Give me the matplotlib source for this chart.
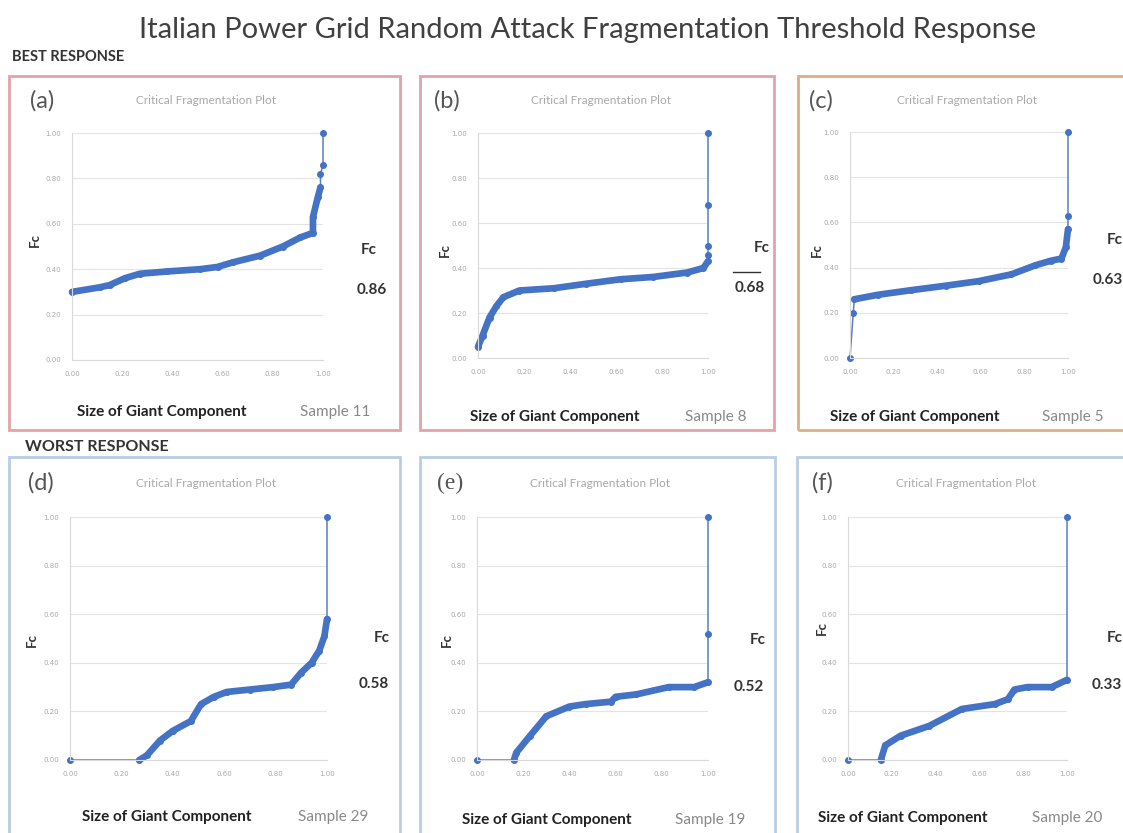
import matplotlib.pyplot as plt
import matplotlib.patches as patches
import numpy as np

W, H = 1123, 833

# critical fragmentation curves: giant component size vs Fc
a_x = [0.00, 0.11, 0.15, 0.21, 0.27, 0.38, 0.51, 0.58, 0.64, 0.75, 0.84, 0.91, 0.96, 0.96, 0.98, 0.99, 0.99]
a_y = [0.30, 0.32, 0.33, 0.36, 0.38, 0.39, 0.40, 0.41, 0.43, 0.46, 0.50, 0.54, 0.56, 0.63, 0.72, 0.76, 0.82]
b_x = [0.00, 0.02, 0.05, 0.08, 0.11, 0.18, 0.33, 0.47, 0.62, 0.76, 0.91, 0.98, 1.00, 1.00, 1.00]
b_y = [0.05, 0.10, 0.18, 0.23, 0.27, 0.30, 0.31, 0.33, 0.35, 0.36, 0.38, 0.40, 0.43, 0.46, 0.50]
c_x = [0.00, 0.015, 0.02, 0.13, 0.28, 0.44, 0.59, 0.74, 0.85, 0.92, 0.97, 0.99, 1.00]
c_y = [0.00, 0.20, 0.26, 0.28, 0.30, 0.32, 0.34, 0.37, 0.41, 0.43, 0.44, 0.49, 0.57]
d_x = [0.00, 0.27, 0.30, 0.35, 0.40, 0.47, 0.51, 0.56, 0.61, 0.70, 0.79, 0.86, 0.90, 0.94, 0.97, 0.99]
d_y = [0.00, 0.00, 0.02, 0.08, 0.12, 0.16, 0.23, 0.26, 0.28, 0.29, 0.30, 0.31, 0.36, 0.40, 0.45, 0.51]
e_x = [0.00, 0.16, 0.17, 0.23, 0.30, 0.40, 0.47, 0.58, 0.60, 0.69, 0.83, 0.94, 1.00]
e_y = [0.00, 0.00, 0.03, 0.10, 0.18, 0.22, 0.23, 0.24, 0.26, 0.27, 0.30, 0.30, 0.32]
f_x = [0.00, 0.15, 0.17, 0.24, 0.37, 0.52, 0.67, 0.73, 0.76, 0.82, 0.93]
f_y = [0.00, 0.00, 0.06, 0.10, 0.14, 0.21, 0.23, 0.25, 0.29, 0.30, 0.30]

series_x = [a_x, b_x, c_x, d_x, e_x, f_x]
series_y = [a_y, b_y, c_y, d_y, e_y, f_y]
fc_values = [0.86, 0.68, 0.63, 0.58, 0.52, 0.33]
samples = [11, 8, 5, 29, 19, 20]
letters = ['a', 'b', 'c', 'd', 'e', 'f']
bands = [(0, 16), (0, 13), (2, 13), (1, 17), (1, 13), (1, 12)]
ticks = [0.0, 0.2, 0.4, 0.6, 0.8, 1.0]

# layout in pixels: frame box, plot area, and text anchors
boxes = [(9, 76, 400, 430), (420, 76, 774, 430), (798, 76, 1140, 430),
         (9, 457, 400, 850), (420, 457, 775, 850), (797, 457, 1140, 850)]
plot_areas = [(72, 133, 323, 360), (478, 133, 708, 358), (850, 132, 1068, 358),
              (70, 517, 327, 760), (477, 517, 708, 760), (848, 517, 1067, 760)]
box_colors = ['#e3a2aa', '#e3a2aa', '#dcae86', '#b9cde3', '#b9cde3', '#b9cde3']
letter_pos = [(42, 101), (447, 101), (821, 101), (41, 483), (450, 483), (822, 483)]
ylabel_pos = [(35, 240), (445, 250), (817, 250), (32, 640), (447, 640), (822, 628)]
fc_pos = [(369, 250), (762, 248), (1115, 240), (382, 638), (758, 640), (1115, 638)]
fc_val_pos = [(372, 290), (750, 288), (1108, 280), (374, 684), (749, 687), (1107, 685)]
xlabel_pos = [(77, 412), (470, 417), (830, 417), (82, 817), (462, 820), (818, 818)]
sample_pos = [(300, 412), (685, 417), (1042, 417), (298, 817), (675, 820), (1032, 818)]

blue = '#4472c4'
plt.rcParams['font.family'] = ['Lato', 'DejaVu Sans']

fig = plt.figure(figsize=(W / 100, H / 100), dpi=100)
fig.patch.set_facecolor('white')


def fx(x):
    return x / W


def fy(y):
    return 1 - y / H


fig.text(fx(588), fy(30), 'Italian Power Grid Random Attack Fragmentation Threshold Response',
         ha='center', va='center', fontsize=21, color='#404040')
fig.text(fx(12), fy(57), 'BEST RESPONSE', ha='left', va='center', fontsize=10.5,
         fontweight='bold', color='#333333')
fig.text(fx(25), fy(447), 'WORST RESPONSE', ha='left', va='center', fontsize=11.5,
         fontweight='bold', color='#333333')

for i in range(6):
    x0, y0, x1, y1 = boxes[i]
    fig.patches.append(patches.Rectangle((fx(x0), fy(y1)), fx(x1 - x0), (y1 - y0) / H,
                                         transform=fig.transFigure, fill=False,
                                         edgecolor=box_colors[i], lw=2))

    px0, py0, px1, py1 = plot_areas[i]
    ax = fig.add_axes([fx(px0), fy(py1), fx(px1 - px0), (py1 - py0) / H])
    ax.set_xlim(0, 1)
    ax.set_ylim(0, 1)
    ax.set_xticks(ticks)
    ax.set_yticks(ticks)
    ax.set_xticklabels(['{:.2f}'.format(t) for t in ticks], family='DejaVu Sans')
    ax.set_yticklabels(['{:.2f}'.format(t) for t in ticks], family='DejaVu Sans')
    ax.tick_params(length=0, labelsize=5, labelcolor='#a8a8a8', pad=8)
    ax.grid(axis='y', color='#e4e4e4', lw=0.8)
    ax.set_axisbelow(True)
    for side in ['top', 'right']:
        ax.spines[side].set_visible(False)
    for side in ['left', 'bottom']:
        ax.spines[side].set_color('#d9d9d9')
        ax.spines[side].set_linewidth(0.8)

    xs = np.array(series_x[i] + [1.0, 1.0])
    ys = np.array(series_y[i] + [fc_values[i], 1.0])
    s, e = bands[i]
    ax.plot(xs, ys, color='#5a7fc0', lw=1.1, clip_on=False)
    ax.plot(xs[s:e], ys[s:e], color=blue, lw=4.8, solid_capstyle='round',
            solid_joinstyle='round', clip_on=False)
    ax.plot(xs, ys, 'o', color=blue, ms=4, clip_on=False)

    lx, ly = letter_pos[i]
    fam = ['Liberation Serif'] if letters[i] == 'e' else ['Lato']
    fig.text(fx(lx), fy(ly), '(' + letters[i] + ')', ha='center', va='center',
             fontsize=17, color='#555555', family=fam)
    fig.text(fx((px0 + px1) / 2 + 8), fy(ly), 'Critical Fragmentation Plot',
             ha='center', va='center', fontsize=8.5, color='#a8a8a8')
    yx, yy = ylabel_pos[i]
    fig.text(fx(yx), fy(yy), 'Fc', rotation=90, ha='center', va='center',
             fontsize=9.5, fontweight='bold', color='#333333')
    cx, cy = fc_pos[i]
    fig.text(fx(cx), fy(cy), 'Fc', ha='center', va='center', fontsize=11,
             fontweight='bold', color='#333333')
    vx, vy = fc_val_pos[i]
    fig.text(fx(vx), fy(vy), '{:.2f}'.format(fc_values[i]), ha='center', va='center',
             fontsize=11, fontweight='bold', color='#333333')
    sx, sy = xlabel_pos[i]
    fig.text(fx(sx), fy(sy), 'Size of Giant Component', ha='left', va='center',
             fontsize=11, fontweight='bold', color='#222222')
    mx, my = sample_pos[i]
    fig.text(fx(mx), fy(my), 'Sample {}'.format(samples[i]), ha='left', va='center',
             fontsize=11, color='#888888')

# short dash drawn beside the Fc value of panel (b)
fig.add_artist(plt.Line2D([fx(733), fx(760)], [fy(272), fy(272)], color='#333333', lw=1))

fig.savefig('out.png', dpi=100, facecolor='white')
